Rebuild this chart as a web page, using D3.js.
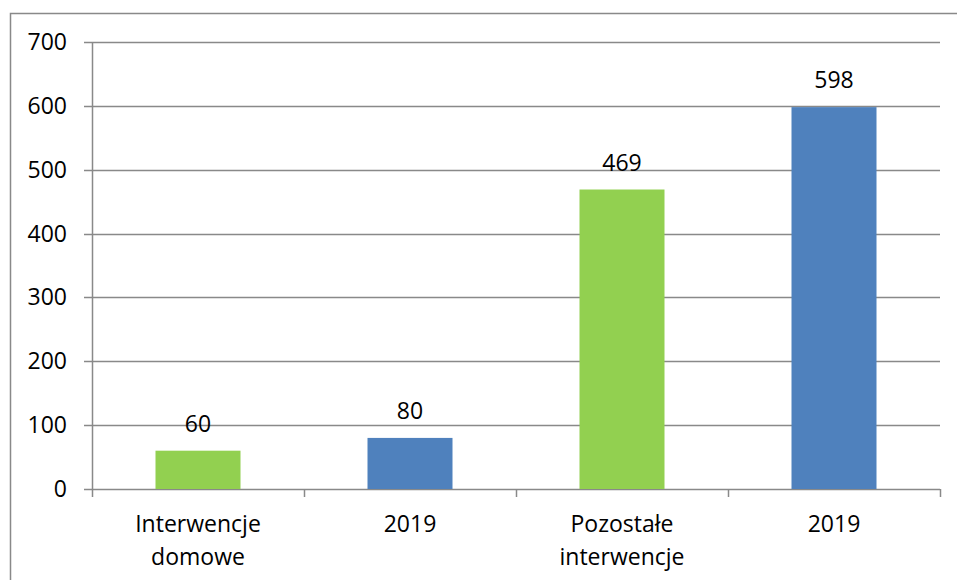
<!DOCTYPE html>
<html><head><meta charset="utf-8">
<script src="https://cdn.jsdelivr.net/npm/d3@7"></script>
<style>
html,body{margin:0;padding:0;background:#fff;}
svg{display:block;}
text{font-family:"Open Sans",sans-serif;fill:#000;}
</style></head>
<body>
<svg id="chart" width="957" height="580"></svg>
<script>
const categories = [["Interwencje","domowe"],["2019"],["Pozostałe","interwencje"],["2019"]];
const values = [60, 80, 469, 598];
const barColors = ["#92D050", "#4F81BD", "#92D050", "#4F81BD"];
const yTicks = [0, 100, 200, 300, 400, 500, 600, 700];

const svg = d3.select("#chart");
const grid = "#898989";
const fs = 23;

// outer frame
svg.append("rect").attr("x", 10.5).attr("y", 13.5).attr("width", 1200).attr("height", 1200)
  .attr("fill", "none").attr("stroke", grid).attr("stroke-width", 1.5);

const x0 = 92, x1 = 940, yb = 489, yt = 42;
const x = d3.scaleBand().domain(d3.range(values.length)).range([x0, x1]).paddingInner(0).paddingOuter(0);
const y = d3.scaleLinear().domain([0, 700]).range([yb, yt]);

// gridlines + y ticks
svg.append("g").selectAll("line").data(yTicks).join("line")
  .attr("x1", 84).attr("x2", x1).attr("y1", d => Math.round(y(d)) + 0.5).attr("y2", d => Math.round(y(d)) + 0.5)
  .attr("stroke", grid).attr("stroke-width", 1.5);

svg.append("g").selectAll("text").data(yTicks).join("text")
  .attr("x", 67).attr("y", d => y(d)).attr("dy", "0.35em").attr("text-anchor", "end")
  .attr("font-size", fs).text(d => d);

// y axis line
svg.append("line").attr("x1", x0 + 0.5).attr("x2", x0 + 0.5).attr("y1", yt).attr("y2", 497)
  .attr("stroke", grid).attr("stroke-width", 1.5);

// category ticks
const bounds = d3.range(values.length + 1).map(i => i < values.length ? x(i) : x1);
svg.append("g").selectAll("line").data(bounds.slice(1)).join("line")
  .attr("x1", d => Math.round(d) + 0.5).attr("x2", d => Math.round(d) + 0.5).attr("y1", yb).attr("y2", 497)
  .attr("stroke", grid).attr("stroke-width", 1.5);

// bars
const bw = 85;
svg.append("g").selectAll("rect").data(values).join("rect")
  .attr("x", (d, i) => x(i) + x.bandwidth() / 2 - bw / 2)
  .attr("width", bw)
  .attr("y", d => y(d))
  .attr("height", d => y(0) - y(d))
  .attr("fill", (d, i) => barColors[i]);

// value labels
svg.append("g").selectAll("text").data(values).join("text")
  .attr("x", (d, i) => x(i) + x.bandwidth() / 2)
  .attr("y", d => y(d) - 19)
  .attr("text-anchor", "middle").attr("font-size", fs).text(d => d);

// category labels
const cl = svg.append("g").selectAll("text").data(categories).join("text")
  .attr("x", (d, i) => x(i) + x.bandwidth() / 2)
  .attr("y", 532).attr("text-anchor", "middle").attr("font-size", fs);
cl.selectAll("tspan").data(d => d).join("tspan")
  .attr("x", function () { return d3.select(this.parentNode).attr("x"); })
  .attr("dy", (d, j) => j === 0 ? 0 : 33).text(d => d);
</script>
</body></html>
